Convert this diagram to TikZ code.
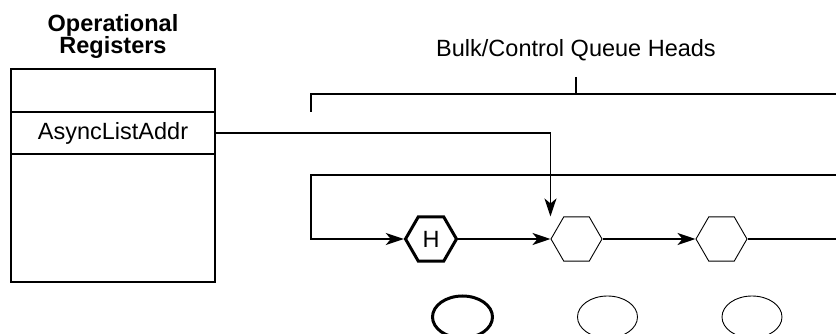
\documentclass[tikz,border=0pt]{standalone}
\usepackage{fontspec}
\setmainfont{Liberation Sans}
\usepackage{tikz}
\usetikzlibrary{shapes.geometric, arrows.meta, positioning, calc}

\begin{document}
\begin{tikzpicture}[
        x=1pt, y=-1pt,
        font=\fontsize{23.5}{22}\selectfont,
        regrow/.style={rectangle, draw, line width=1.5pt, minimum width=204pt, inner sep=0pt, outer sep=0pt},
        qhead/.style={regular polygon, regular polygon sides=6, draw, line width=0.9pt, minimum size=51pt, inner sep=0pt},
        ell/.style={ellipse, draw, line width=0.9pt, minimum width=60pt, minimum height=42pt, inner sep=0pt},
        line/.style={line width=1.5pt},
        arrow/.style={line width=1.5pt, -{Stealth[length=18pt, width=12pt, inset=5pt]}}
        ]
        \useasboundingbox (0,0) rectangle (836,334);

        % Registers
        \node (regtop) [regrow, minimum height=43pt] at (113,90.5) {};
        \node (addr) [regrow, minimum height=42pt, below=0pt of regtop] {AsyncListAddr};
        \node (regbot) [regrow, minimum height=128pt, below=0pt of addr] {};
        \node (regtitle) [above=7pt of regtop, align=center, font=\fontsize{23.5}{22}\selectfont\bfseries] {Operational\\Registers};

        % Queue heads
        \node (qh) [qhead, line width=3pt] at (431,239) {H};
        \node (q2) [qhead] at (576.5,239) {};
        \node (q3) [qhead] at (721.5,239) {};

        \node (e1) [ell, line width=3pt] at (462.5,317) {};
        \node (e2) [ell] at (607.5,317) {};
        \node (e3) [ell] at (752,317) {};

        % Bracket and label
        \coordinate (brL) at (311,112);
        \coordinate (brR) at (836,94);
        \coordinate (tick) at (576,77);
        \node (qlabel) at (576,50) {Bulk/Control Queue Heads};

        % Loop ends
        \coordinate (loopL) at (311,175);
        \coordinate (loopR) at (836,175);

        % Lines
        \draw [line] (brL) |- (brR);
        \draw [line] (tick) -- (tick |- brR);

        \draw [arrow] (loopR) -- (loopL) |- (qh.west);
        \draw [arrow] (q2.west -| qh.east) -- (q2.west);
        \draw [arrow] (q2.east) -- (q3.west);
        \draw [line] (q3.east) -- (q3.east -| loopR);

        \draw [arrow] (addr.east) -| (q2.west |- q2.north);

    \end{tikzpicture}
\end{document}
